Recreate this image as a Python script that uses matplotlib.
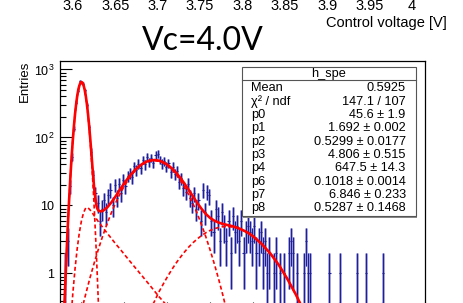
import numpy as np
import matplotlib
matplotlib.use("Agg")
import matplotlib.pyplot as plt
from matplotlib.ticker import FixedLocator, FixedFormatter, LogLocator, NullFormatter, MultipleLocator
from matplotlib.patches import Rectangle

# h_spe: 170 bins from -0.5 to 8.0
bin_edges = np.linspace(-0.5, 8.0, 171)
counts = [
    0, 0, 1, 3, 19, 52, 135, 323, 488, 680,
    618, 495, 299, 140, 62, 28, 15, 11, 6, 9,
    12, 8, 14, 17, 10, 20, 13, 21, 15, 24,
    19, 27, 30, 26, 38, 33, 41, 35, 47, 40,
    52, 44, 50, 42, 55, 58, 47, 41, 45, 37,
    42, 31, 37, 29, 32, 22, 25, 18, 16, 21,
    13, 11, 15, 9, 12, 6, 17, 8, 16, 14,
    6, 4, 9, 7, 3, 8, 5, 3, 6, 2,
    7, 4, 5, 3, 6, 2, 4, 5, 4, 3,
    5, 2, 3, 4, 2, 3, 1, 2, 0, 1,
    2, 0, 1, 0, 1, 0, 2, 3, 2, 0,
    1, 0, 0, 1, 3, 1, 1, 0, 0, 0,
    0, 0, 0, 0, 0, 1, 0, 0, 0, 0,
    1, 0, 0, 0, 0, 0, 0, 0, 1, 0,
    0, 0, 1, 0, 0, 0, 0, 0, 0, 0,
    1, 0, 0, 0, 0, 0, 0, 0, 0, 0,
    0, 0, 0, 0, 0, 0, 0, 0, 0, 0,
]

# total fit function
fit_x = [-0.40, -0.375, -0.35, -0.325, -0.30, -0.275, -0.25, -0.225, -0.20, -0.175,
         -0.15, -0.125, -0.10, -0.075, -0.05, -0.025, 0.0, 0.025, 0.05, 0.075,
         0.10, 0.125, 0.15, 0.175, 0.20, 0.225, 0.25, 0.275, 0.30, 0.325,
         0.35, 0.375, 0.40, 0.45, 0.50, 0.6, 0.7, 0.8, 0.9, 1.0,
         1.1, 1.2, 1.3, 1.4, 1.5, 1.6, 1.7, 1.8, 1.9, 2.0,
         2.1, 2.2, 2.3, 2.4, 2.5, 2.6, 2.7, 2.8, 2.9, 3.0,
         3.1, 3.2, 3.3, 3.4, 3.5, 3.6, 3.7, 3.8, 3.9, 4.0,
         4.2, 4.4, 4.6, 4.8, 5.0, 5.2, 5.4]
fit_y = [0.31, 0.76, 1.80, 4.03, 8.53, 17.0, 32.0, 56.7, 94.6, 148.7,
         220, 306.4, 402, 496.9, 578, 633.5, 653.5, 635.7, 582.2, 502.7,
         409.4, 314.5, 228.6, 157.7, 103.4, 65.7, 40.7, 25.7, 16.9, 12.5,
         9.9, 8.8, 8.33, 8.17, 8.34, 9.36, 11.16, 13.76, 17.2, 21.35,
         26.0, 31.0, 35.8, 40.1, 43.7, 45.87, 46.54, 45.65, 43.3, 39.73,
         35.31, 30.45, 25.53, 20.91, 16.84, 13.46, 10.79, 8.83, 7.44, 6.52,
         5.94, 5.58, 5.33, 5.15, 4.98, 4.77, 4.51, 4.21, 3.88, 3.50,
         2.71, 1.96, 1.32, 0.82, 0.48, 0.26, 0.13]

# components
ped_x = [-0.40, -0.375, -0.35, -0.325, -0.30, -0.275, -0.25, -0.225, -0.20, -0.175,
         -0.15, -0.125, -0.10, -0.075, -0.05, -0.025, 0.0, 0.025, 0.05, 0.075,
         0.10, 0.125, 0.15, 0.175, 0.20, 0.225, 0.25, 0.275, 0.30, 0.325,
         0.35, 0.375, 0.40, 0.425]
ped_y = [0.288, 0.73, 1.75, 3.96, 8.42, 16.84, 31.75, 56.3, 93.96, 147.8,
         218.7, 304.6, 399.7, 493.6, 573.9, 628.3, 647.5, 628.3, 573.9, 493.6,
         399.7, 304.6, 218.7, 147.8, 93.96, 56.3, 31.75, 16.84, 8.42, 3.96,
         1.75, 0.73, 0.288, 0.106]

bg_x = [-0.25, -0.2, -0.15, -0.1, -0.05, 0.0, 0.05, 0.1, 0.125, 0.15,
        0.2, 0.25, 0.3, 0.4, 0.5, 0.6, 0.7, 0.8, 0.9, 1.0,
        1.2, 1.4, 1.6, 1.8, 2.0, 2.2, 2.4]
bg_y = [0.203, 0.52, 1.17, 2.30, 3.96, 5.97, 7.88, 9.2, 9.3, 9.25,
        8.6, 7.8, 7.0, 5.7, 4.7, 3.9, 3.25, 2.7, 2.28, 1.9,
        1.33, 0.94, 0.66, 0.46, 0.33, 0.23, 0.16]

spe_x = [0.0, 0.1, 0.2, 0.3, 0.4, 0.5, 0.6, 0.7, 0.8, 0.9,
         1.0, 1.1, 1.2, 1.3, 1.4, 1.5, 1.6, 1.7, 1.8, 1.9,
         2.0, 2.1, 2.2, 2.3, 2.4, 2.5, 2.6, 2.7, 2.8, 2.9,
         3.0, 3.1, 3.2, 3.3, 3.4]
spe_y = [0.28, 0.50, 0.87, 1.45, 2.34, 3.64, 5.46, 7.91, 11.06, 14.93,
         19.45, 24.44, 29.64, 34.69, 39.18, 42.70, 44.92, 45.6, 44.66, 42.22,
         38.51, 33.90, 28.81, 23.62, 18.68, 14.26, 10.51, 7.47, 5.13, 3.40,
         2.17, 1.34, 0.80, 0.46, 0.25]

dpe_x = [1.4, 1.5, 1.6, 1.7, 1.8, 1.9, 2.0, 2.1, 2.2, 2.3,
         2.4, 2.5, 2.6, 2.7, 2.8, 2.9, 3.0, 3.1, 3.2, 3.3,
         3.4, 3.5, 3.6, 3.7, 3.8, 3.9, 4.0, 4.2, 4.4, 4.6,
         4.8, 5.0, 5.2, 5.4]
dpe_y = [0.148, 0.21, 0.29, 0.39, 0.53, 0.69, 0.89, 1.13, 1.41, 1.72,
         2.07, 2.45, 2.84, 3.23, 3.62, 3.98, 4.30, 4.56, 4.75, 4.87,
         4.90, 4.84, 4.70, 4.48, 4.20, 3.87, 3.50, 2.71, 1.96, 1.32,
         0.82, 0.48, 0.26, 0.13]

stat_names = ["Mean", "χ² / ndf", "p0", "p1", "p2", "p3", "p4", "p6", "p7", "p8"]
stat_values = ["0.5925", "147.1 / 107", "45.6 ± 1.9", "1.692 ± 0.002",
               "0.5299 ± 0.0177", "4.806 ± 0.515", "647.5 ± 14.3",
               "0.1018 ± 0.0014", "6.846 ± 0.233", "0.5287 ± 0.1468"]

# top strip: tail of the previous plot's x axis
volt_ticks = [3.6, 3.65, 3.7, 3.75, 3.8, 3.85, 3.9, 3.95, 4.0]
volt_labels = ["3.6", "3.65", "3.7", "3.75", "3.8", "3.85", "3.9", "3.95", "4"]

plt.rcParams['font.family'] = ['Liberation Sans', 'DejaVu Sans']
plt.rcParams['mathtext.fontset'] = 'custom'
plt.rcParams['mathtext.rm'] = 'Liberation Sans'

W, H = 464, 303
fig = plt.figure(figsize=(W / 100, H / 100), dpi=100)


def box(left, top, right, bottom):
    return [left / W, 1 - bottom / H, (right - left) / W, (bottom - top) / H]


# --- main histogram
ax = fig.add_axes(box(60, 61, 425, 309))
centers = 0.5 * (bin_edges[1:] + bin_edges[:-1])
c = np.array(counts, dtype=float)
m = c > 0
err = np.sqrt(c[m])
half = 0.5 * (bin_edges[1] - bin_edges[0])
ax.set_yscale('log')
ax.errorbar(centers[m], c[m], yerr=err, fmt='none', ecolor='#a3a3de',
            elinewidth=2.0, capsize=0, zorder=2)
ax.errorbar(centers[m], c[m], yerr=err, xerr=half, fmt='none', ecolor='#202096',
            elinewidth=0.8, capsize=0, zorder=3)

dash = (0, (2.4, 1.6))
for xs, ys in [(ped_x, ped_y), (bg_x, bg_y), (spe_x, spe_y), (dpe_x, dpe_y)]:
    ax.plot(xs, ys, color='red', lw=1.2, linestyle=dash, zorder=4)
ax.plot(fit_x, fit_y, color='red', lw=1.9, zorder=5)

ax.set_xlim(-0.5, 8.0)
ax.set_ylim(0.3, 1330)
ax.yaxis.set_major_locator(FixedLocator([1, 10, 100, 1000]))
ax.yaxis.set_major_formatter(FixedFormatter(['1', '10', r'$\mathregular{10^{2}}$',
                                             r'$\mathregular{10^{3}}$']))
ax.yaxis.set_minor_locator(LogLocator(base=10, subs=np.arange(2, 10)))
ax.yaxis.set_minor_formatter(NullFormatter())
ax.xaxis.set_major_locator(MultipleLocator(1))
ax.xaxis.set_minor_locator(MultipleLocator(0.2))
ax.tick_params(axis='y', which='major', direction='in', length=8.6, width=0.8,
               labelsize=9, pad=4)
ax.tick_params(axis='y', which='minor', direction='in', length=4.3, width=0.8)
ax.tick_params(axis='x', which='major', direction='in', length=5.4, width=0.8,
               labelbottom=False)
ax.tick_params(axis='x', which='minor', direction='in', length=2.7, width=0.8)
for s in ax.spines.values():
    s.set_linewidth(0.9)
ax.set_ylabel('Entries', fontsize=9.5, loc='top', labelpad=2)

# --- stats box
sx0, sx1, sy0, sy1 = 242, 416, 67, 216
fig.patches.append(Rectangle((sx0 / W + 1.5 / W, 1 - sy1 / H - 1.5 / H),
                             (sx1 - sx0) / W, (sy1 - sy0) / H,
                             transform=fig.transFigure, facecolor='#888888',
                             edgecolor='none', zorder=8))
fig.patches.append(Rectangle((sx0 / W, 1 - sy1 / H), (sx1 - sx0) / W, (sy1 - sy0) / H,
                             transform=fig.transFigure, facecolor='white',
                             edgecolor='#555555', lw=0.8, zorder=9))
fig.lines.append(plt.Line2D([sx0 / W, sx1 / W], [1 - 80 / H, 1 - 80 / H],
                            transform=fig.transFigure, color='#555555', lw=0.8,
                            zorder=10))
fig.text((sx0 + sx1) / 2 / W, 1 - 74 / H, 'h_spe', ha='center', va='center',
         fontsize=9.2, zorder=11)
for i, (name, val) in enumerate(zip(stat_names, stat_values)):
    yy = 1 - (88.3 + 13.33 * i) / H
    fig.text(251.5 / W, yy, name, ha='left', va='center', fontsize=9.2, zorder=11)
    fig.text(405.7 / W, yy, val, ha='right', va='center', fontsize=9.2, zorder=11)

# --- title
fig.text(203 / W, 1 - 50 / H, 'Vc=4.0V', family='Lato', fontsize=23,
         ha='center', va='baseline')

# --- top strip from the voltage scan plot
axt = fig.add_axes(box(73, -1.0, 412, -0.5))
axt.set_xlim(3.6, 4.0)
axt.set_xticks(volt_ticks, volt_labels)
axt.set_yticks([])
axt.tick_params(axis='x', length=0, pad=0, labelsize=10.5)
for s in axt.spines.values():
    s.set_visible(False)
axt.patch.set_alpha(0)
fig.text(447 / W, 1 - 26.5 / H, 'Control voltage [V]', fontsize=10.5,
         ha='right', va='baseline')

fig.savefig('out.png', dpi=100)
